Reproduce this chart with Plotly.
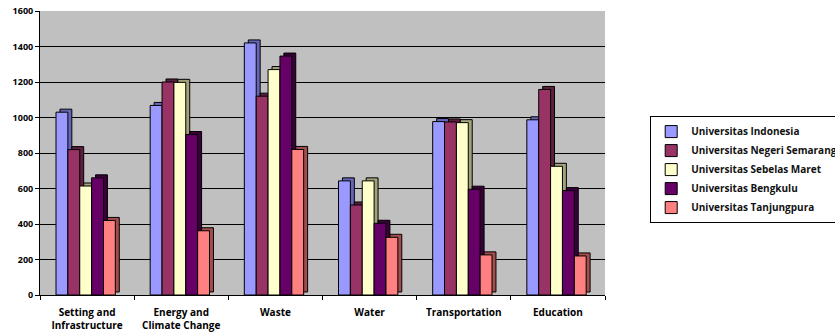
import plotly.graph_objects as go

categories = ["Setting and<br>Infrastructure", "Energy and<br>Climate Change", "Waste",
              "Water", "Transportation", "Education"]
series_names = ["Universitas Indonesia", "Universitas Negeri Semarang",
                "Universitas Sebelas Maret", "Universitas Bengkulu", "Universitas Tanjungpura"]
ui = [1030, 1068, 1420, 643, 977, 987]
unnes = [819, 1200, 1120, 507, 975, 1158]
uns = [614, 1198, 1270, 643, 971, 725]
unib = [660, 904, 1346, 404, 596, 588]
untan = [420, 362, 820, 325, 226, 220]
colors = ["#9999FF", "#993366", "#FFFFCC", "#660066", "#FF8080"]
side_colors = ["#6666B8", "#5C1F3D", "#A3A37A", "#3A003A", "#A34D4D"]
tick_vals = [0, 200, 400, 600, 800, 1000, 1200, 1400, 1600]

bar_w = 0.126
start = -0.33
depth_x = 0.042
depth_y = 17

fig = go.Figure()
for i, (name, vals, col, scol) in enumerate(zip(series_names, [ui, unnes, uns, unib, untan],
                                                colors, side_colors)):
    off = start + i * bar_w
    # depth (3D side/top) face
    fig.add_trace(go.Bar(x=categories, y=vals, base=depth_y, offset=off + depth_x, width=bar_w,
                         marker=dict(color=scol, line=dict(color="black", width=1)),
                         showlegend=False, hoverinfo="skip"))
    # front face
    fig.add_trace(go.Bar(x=categories, y=vals, name=name, offset=off, width=bar_w,
                         marker=dict(color=col, line=dict(color="black", width=1))))

font_family = "Open Sans, DejaVu Sans, sans-serif"
fig.update_layout(
    width=835, height=334,
    margin=dict(l=40, r=230, t=11, b=39, autoexpand=False),
    paper_bgcolor="white", plot_bgcolor="#C0C0C0",
    barmode="overlay",
    font=dict(family=font_family, size=10, color="black"),
    showlegend=True,
    legend=dict(x=1.08, y=0.63, xanchor="left", yanchor="top",
                bordercolor="black", borderwidth=1, bgcolor="white",
                font=dict(size=10, color="#111", weight="bold"), itemwidth=30,
                tracegroupgap=0),
)
fig.update_yaxes(range=[0, 1600], tickvals=tick_vals, showgrid=True, gridcolor="black",
                 gridwidth=1, showline=True, linecolor="black", linewidth=1,
                 ticks="outside", ticklen=4, tickcolor="black",
                 tickfont=dict(size=9, family=font_family, weight="bold"), zeroline=False)
fig.update_xaxes(showline=True, linecolor="black", linewidth=1, ticks="outside",
                 tickson="boundaries", ticklen=4, tickcolor="black", ticklabelstandoff=8,
                 tickfont=dict(size=10, family=font_family, weight="bold"))

fig.write_html("out.html")
